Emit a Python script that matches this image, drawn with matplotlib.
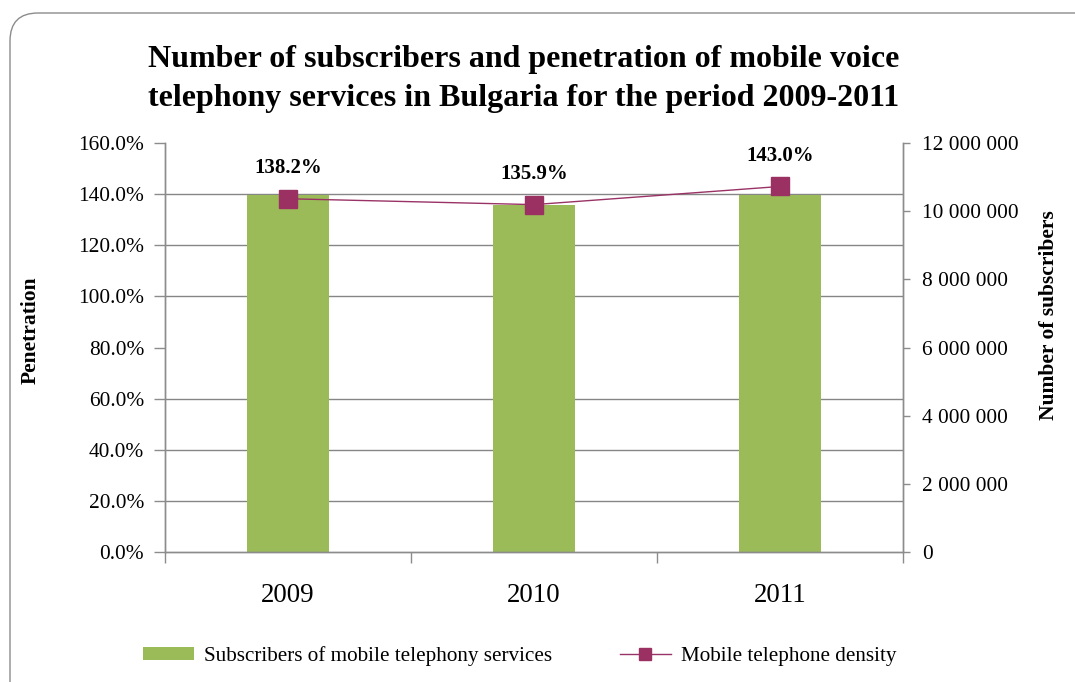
import matplotlib
matplotlib.use('Agg')
import matplotlib.pyplot as plt
from matplotlib.ticker import MultipleLocator, FixedLocator, FuncFormatter
from matplotlib.patches import FancyBboxPatch, Patch
from matplotlib.lines import Line2D

years = ['2009', '2010', '2011']
subscribers = [10470000, 10180000, 10470000]
penetration = [138.2, 135.9, 143.0]

BAR_COLOR = '#9BBB59'
LINE_COLOR = '#993366'
AXIS_GRAY = '#8C8C8C'

plt.rcParams['font.family'] = ['Liberation Serif', 'DejaVu Serif']

fig = plt.figure(figsize=(10.75, 6.82), dpi=100)

# rounded chart frame
frame = FancyBboxPatch((0.10, -0.3), 11.2, 6.99, boxstyle='round,pad=0,rounding_size=0.28',
                       transform=fig.dpi_scale_trans, facecolor='none',
                       edgecolor='#8C8C8C', linewidth=1.0)
fig.patches.append(frame)

ax = fig.add_axes([0.1535, 0.1906, 0.6865, 0.5997])
ax2 = ax.twinx()

# bars on the secondary (right) scale, drawn underneath
x = list(range(len(years)))
ax2.bar(x, subscribers, width=0.33, color=BAR_COLOR, zorder=2)
ax2.set_ylim(0, 12000000)
ax2.yaxis.set_major_locator(MultipleLocator(2000000))
ax2.yaxis.set_major_formatter(FuncFormatter(lambda v, p: '{:,}'.format(int(v)).replace(',', ' ')))
# grid lines follow the 20% steps of the penetration scale
ax2.yaxis.set_minor_locator(MultipleLocator(1500000))
ax2.grid(which='minor', axis='y', color='#868686', linewidth=1.0)
ax2.set_axisbelow(True)
ax2.tick_params(axis='y', which='major', length=5, width=1, color=AXIS_GRAY,
                labelsize=15.4, pad=9)
ax2.tick_params(axis='y', which='minor', length=0)
ax2.set_ylabel('Number of subscribers', fontsize=15.5, fontweight='bold')
ax2.yaxis.set_label_coords(1.184, 0.578)

# penetration line on top
ax.set_zorder(ax2.get_zorder() + 1)
ax.patch.set_visible(False)
ax.plot(x, penetration, color=LINE_COLOR, linewidth=1.0, marker='s', markersize=13,
        markerfacecolor='#9B3162', markeredgecolor='#9B3162')
for xi, v in zip(x, penetration):
    ax.annotate('{:.1f}%'.format(v), (xi, v), xytext=(0, 15), textcoords='offset points',
                ha='center', va='bottom', fontsize=15, fontweight='bold')
ax.set_ylim(0, 160)
ax.yaxis.set_major_locator(MultipleLocator(20))
ax.yaxis.set_major_formatter(FuncFormatter(lambda v, p: '{:.1f}%'.format(v)))
ax.tick_params(axis='y', length=8, width=1, color=AXIS_GRAY, labelsize=15.4, pad=7)
ax.set_ylabel('Penetration', fontsize=15.5, fontweight='bold')
ax.yaxis.set_label_coords(-0.168, 0.543)

ax.set_xlim(-0.5, 2.5)
ax.xaxis.set_major_locator(FixedLocator([-0.5, 0.5, 1.5, 2.5]))
ax.xaxis.set_minor_locator(FixedLocator(x))
ax.set_xticklabels([], minor=False)
ax.set_xticklabels(years, minor=True)
ax.tick_params(axis='x', which='major', length=8, width=1, color=AXIS_GRAY)
ax.tick_params(axis='x', which='minor', length=0, labelsize=19.4, pad=22)

for a in (ax, ax2):
    a.spines['top'].set_visible(False)
    for s in ('left', 'right', 'bottom'):
        a.spines[s].set_color(AXIS_GRAY)
        a.spines[s].set_linewidth(1.0)

fig.text(0.4875, 0.884, 'Number of subscribers and penetration of mobile voice\n'
         'telephony services in Bulgaria for the period 2009-2011',
         ha='center', va='center', fontsize=23, fontweight='bold', linespacing=1.45)

handles = [Patch(facecolor=BAR_COLOR, edgecolor='none'),
           Line2D([], [], color=LINE_COLOR, linewidth=1.0, marker='s', markersize=9,
                  markerfacecolor='#9B3162', markeredgecolor='#9B3162')]
fig.legend(handles, ['Subscribers of mobile telephony services', 'Mobile telephone density'],
           loc='center', bbox_to_anchor=(0.4837, 0.038), ncol=2, frameon=False,
           fontsize=15.2, handlelength=2.4, handleheight=0.6, columnspacing=3.2,
           handletextpad=0.5)

fig.savefig('out.png', dpi=100)
